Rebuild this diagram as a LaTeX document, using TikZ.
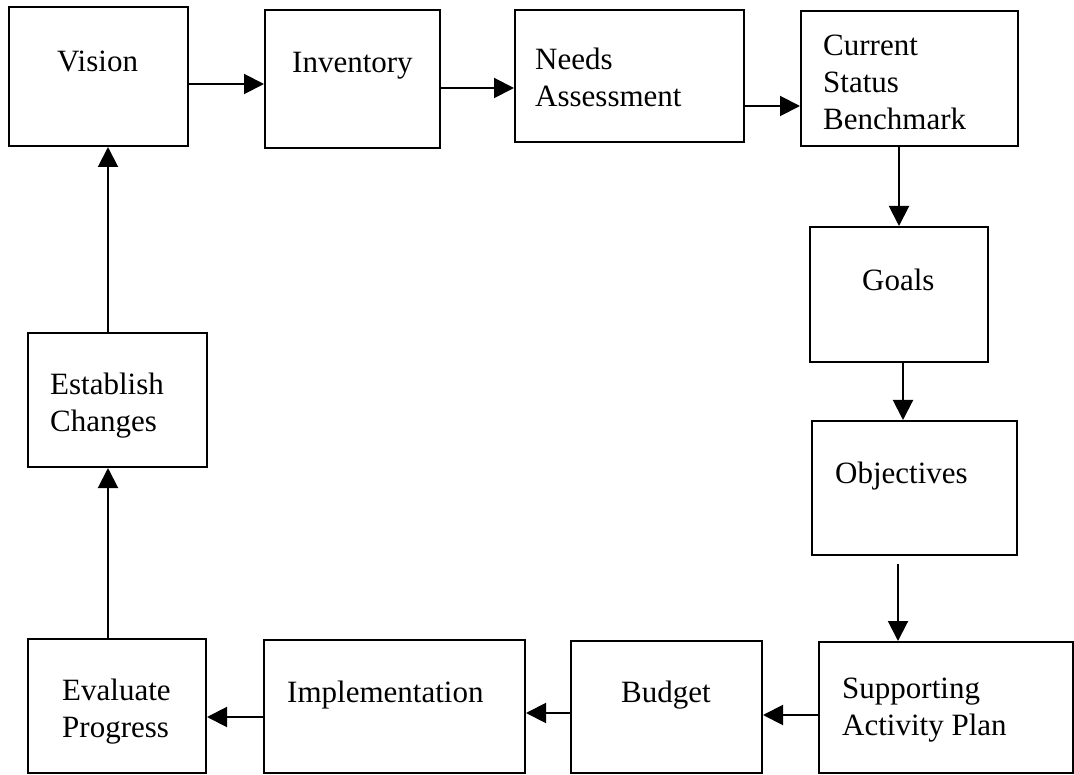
\documentclass[tikz,border=0pt]{standalone}
\usepackage{fontspec}
\setmainfont{Liberation Serif}
\usetikzlibrary{arrows.meta}
\begin{document}
\begin{tikzpicture}[x=1pt,y=-1pt,
  box/.style={draw, line width=2pt, inner sep=0pt, rectangle},
  lbl/.style={anchor=base west, inner sep=0pt, font=\fontsize{31}{37}\selectfont, align=left},
  arr/.style={line width=2pt, -{Triangle[length=20pt,width=20pt]}}]
\useasboundingbox[fill=white] (0,0) rectangle (1074,775);
% boxes (centre, width, height)
\node[box, minimum width=179pt, minimum height=139pt] (vision) at (98.5,76.5) {};
\node[box, minimum width=175pt, minimum height=138pt] (inventory) at (352.5,79) {};
\node[box, minimum width=229pt, minimum height=132pt] (needs) at (629.5,76) {};
\node[box, minimum width=217pt, minimum height=135pt] (current) at (909.5,78.5) {};
\node[box, minimum width=178pt, minimum height=135pt] (goals) at (899,294.5) {};
\node[box, minimum width=205pt, minimum height=134pt] (objectives) at (914.5,488) {};
\node[box, minimum width=254pt, minimum height=131pt] (sap) at (946,707.5) {};
\node[box, minimum width=191pt, minimum height=132pt] (budget) at (666.5,707) {};
\node[box, minimum width=261pt, minimum height=133pt] (impl) at (394.5,706.5) {};
\node[box, minimum width=178pt, minimum height=134pt] (evaluate) at (117,706) {};
\node[box, minimum width=179pt, minimum height=134pt] (establish) at (117.5,400) {};
% labels (anchor = baseline of the last line)
\node[lbl] (tvision) at (57,72) {Vision};
\node[lbl] (tinventory) at (292,73) {Inventory};
\node[lbl] (tneeds) at (535,107) {Needs\\Assessment};
\node[lbl] (tcurrent) at (823,130) {Current\\Status\\Benchmark};
\node[lbl] (tgoals) at (862,291) {Goals};
\node[lbl] (tobjectives) at (835,483) {Objectives};
\node[lbl] (tsap) at (842,735) {Supporting\\Activity Plan};
\node[lbl] (tbudget) at (621,702) {Budget};
\node[lbl] (timpl) at (287,702) {Implementation};
\node[lbl] (tevaluate) at (62,737) {Evaluate\\Progress};
\node[lbl] (testablish) at (50,432) {Establish\\Changes};
% connectors
\draw[arr] (vision.east |- 0,84) -- (inventory.west |- 0,84);
\draw[arr] (inventory.east |- 0,88) -- (needs.west |- 0,88);
\draw[arr] (needs.east |- 0,106) -- (current.west |- 0,106);
\draw[arr] (current.south -| 899,0) -- (goals.north -| 899,0);
\draw[arr] (goals.south -| 903,0) -- (objectives.north -| 903,0);
\draw[arr] ([yshift=-8pt]objectives.south -| 898,0) -- (sap.north -| 898,0);
\draw[arr] (sap.west |- 0,715) -- (budget.east |- 0,715);
\draw[arr] (budget.west |- 0,713) -- (impl.east |- 0,713);
\draw[arr] (impl.west |- 0,717) -- (evaluate.east |- 0,717);
\draw[arr] (evaluate.north -| 108,0) -- (establish.south -| 108,0);
\draw[arr] (establish.north -| 108,0) -- (vision.south -| 108,0);
\end{tikzpicture}
\end{document}
